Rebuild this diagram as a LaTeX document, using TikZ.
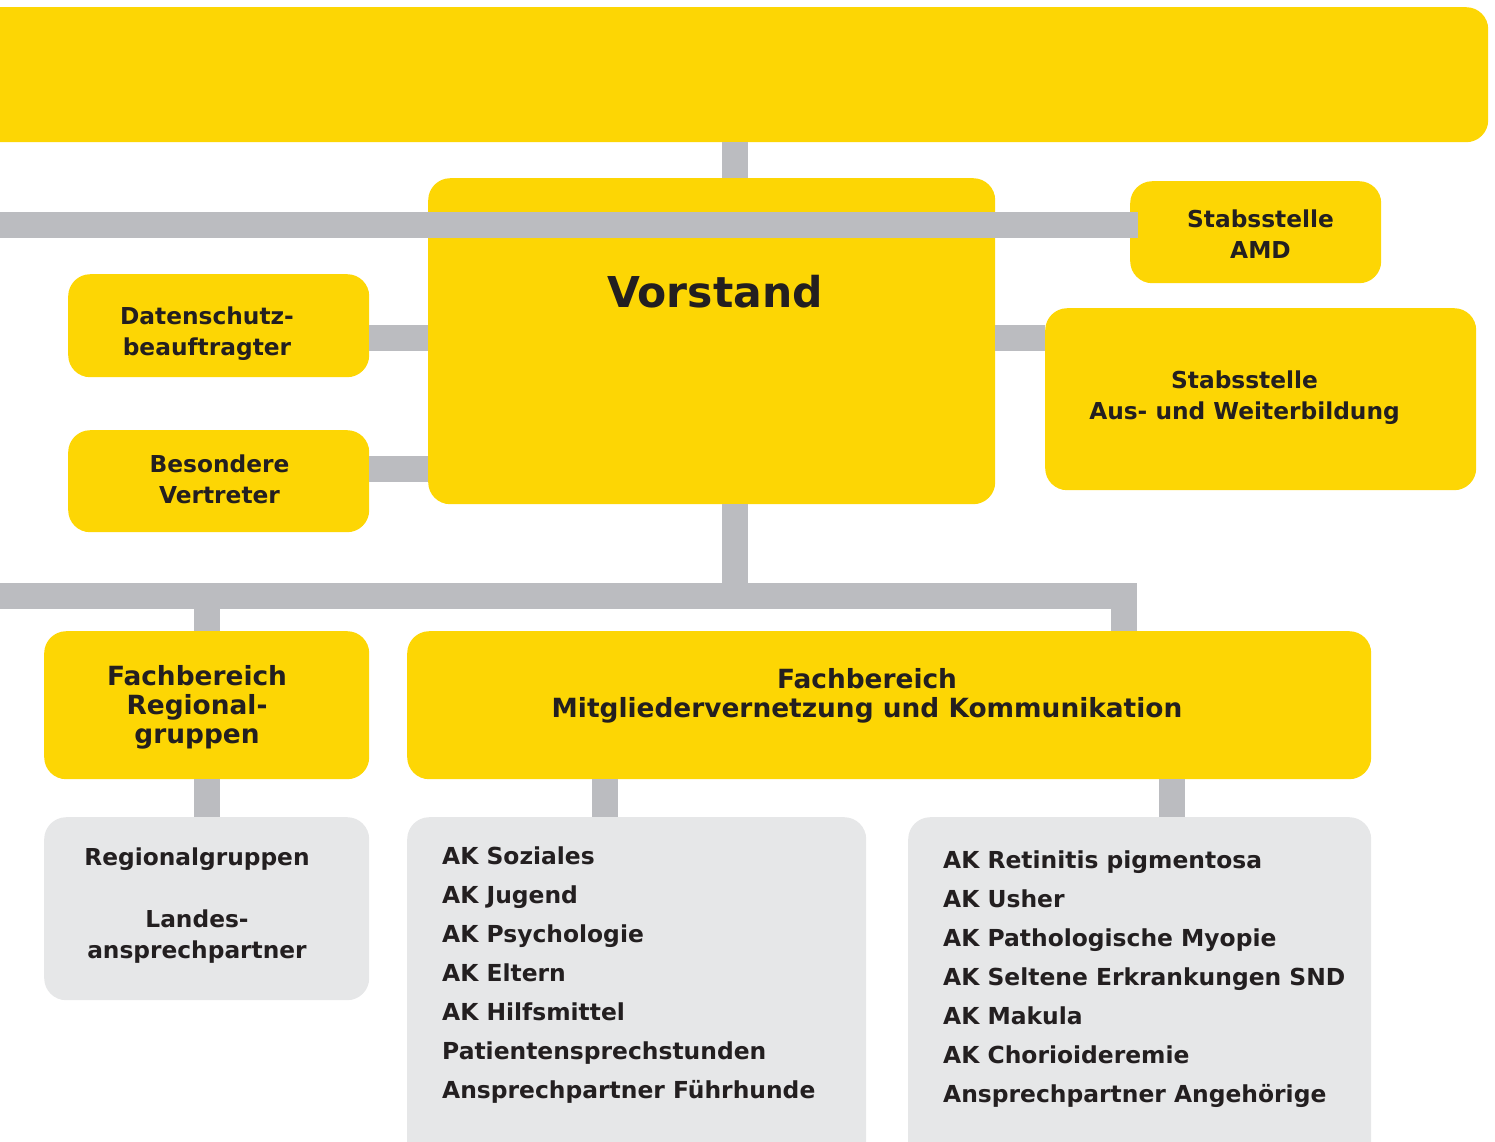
\documentclass[tikz,border=0pt]{standalone}
\usepackage{fontspec}
\setmainfont{DejaVu Sans}
\usetikzlibrary{calc}

\definecolor{boxyellow}{HTML}{FDD604}
\definecolor{linkgrey}{HTML}{BBBCC0}
\definecolor{listgrey}{HTML}{E6E7E8}
\definecolor{inkdark}{HTML}{231F20}

\tikzset{
  ybox/.style={fill=boxyellow, draw=none, rounded corners=22pt, anchor=north west, inner sep=0pt},
  gbox/.style={fill=listgrey, draw=none, rounded corners=22pt, anchor=north west, inner sep=0pt},
  conn/.style={draw=linkgrey, line width=26pt, line cap=butt, line join=miter},
  lbl/.style={text=inkdark, inner sep=0pt, anchor=base, font=\fontsize{23.3}{31}\selectfont\bfseries},
  biglbl/.style={lbl, font=\fontsize{26.4}{29}\selectfont\bfseries},
  listlbl/.style={text=inkdark, inner sep=0pt, anchor=base west, font=\fontsize{23.4}{39}\selectfont\bfseries},
}

\begin{document}
\begin{tikzpicture}[x=1pt, y=-1pt]
\useasboundingbox (0,0) rectangle (1495,1141);
\clip (0,0) rectangle (1495,1141);

% boxes
\node[ybox, minimum width=1520pt, minimum height=135pt] (top) at (-32,7) {};
\node[ybox, minimum width=567pt, minimum height=326pt] (vorstand) at (428,178) {};
\node[ybox, minimum width=301pt, minimum height=103pt] (dsb) at (68,274) {};
\node[ybox, minimum width=301pt, minimum height=102pt] (bv) at (68,430) {};
\node[ybox, minimum width=251pt, minimum height=102pt] (amd) at (1130,181) {};
\node[ybox, minimum width=431pt, minimum height=182pt] (ausw) at (1045,308) {};
\node[ybox, minimum width=325pt, minimum height=148pt] (fbr) at (44,631) {};
\node[ybox, minimum width=964pt, minimum height=148pt] (fbm) at (407,631) {};
\node[gbox, minimum width=325pt, minimum height=183pt] (rg) at (44,817) {};
\node[gbox, minimum width=459pt, minimum height=350pt] (akl) at (407,817) {};
\node[gbox, minimum width=463pt, minimum height=350pt] (akr) at (908,817) {};

% reference lines for the connectors
\coordinate (cx) at (735,0);
\coordinate (bar1) at (0,225);
\coordinate (side1) at (0,337.5);
\coordinate (side2) at (0,468.5);
\coordinate (bar2) at (0,596);
\coordinate (bar2top) at (0,583);
\coordinate (rx) at (1124,0);
\coordinate (kx1) at (605,0);
\coordinate (kx2) at (1171.5,0);

% connectors
\draw[conn] (top.south -| cx) -- (vorstand.north -| cx);
\draw[conn] (bar1) -- ($(amd.west |- bar1)+(8,0)$);
\draw[conn] (dsb.east |- side1) -- (vorstand.west |- side1);
\draw[conn] (bv.east |- side2) -- (vorstand.west |- side2);
\draw[conn] (vorstand.east |- side1) -- (ausw.west |- side1);
\draw[conn] (vorstand.south -| cx) -- (bar2 -| cx);
\draw[conn] (bar2) -- (bar2 -| rx) -- (fbm.north -| rx);
\draw[conn] (bar2top -| fbr.north) -- (fbr.north);
\draw[conn] (fbr.south) -- (rg.north);
\draw[conn] (fbm.south -| kx1) -- (akl.north -| kx1);
\draw[conn] (fbm.south -| kx2) -- (akr.north -| kx2);

% labels
\node[lbl, font=\fontsize{42.5}{50}\selectfont\bfseries] (tvorstand) at (715,307) {Vorstand};
\node[lbl] (tdsb) at (207,324) {\begin{tabular}[t]{@{}c@{}}Datenschutz-\\beauftragter\end{tabular}};
\node[lbl] (tbv) at (219.5,472) {\begin{tabular}[t]{@{}c@{}}Besondere\\Vertreter\end{tabular}};
\node[lbl] (tamd) at (1260.5,227) {\begin{tabular}[t]{@{}c@{}}Stabsstelle\\AMD\end{tabular}};
\node[lbl] (tausw) at (1244.5,388) {\begin{tabular}[t]{@{}c@{}}Stabsstelle\\Aus- und Weiterbildung\end{tabular}};
\node[biglbl] (tfbr) at (197,685) {\begin{tabular}[t]{@{}c@{}}Fachbereich\\Regional-\\gruppen\end{tabular}};
\node[biglbl] (tfbm) at (867,688) {\begin{tabular}[t]{@{}c@{}}Fachbereich\\Mitgliedervernetzung und Kommunikation\end{tabular}};
\node[lbl] (trg) at (197,865) {\begin{tabular}[t]{@{}c@{}}Regionalgruppen\\ \\Landes-\\ansprechpartner\end{tabular}};
\node[listlbl] (takl) at (442,864) {\begin{tabular}[t]{@{}l@{}}AK Soziales\\AK Jugend\\AK Psychologie\\AK Eltern\\AK Hilfsmittel\\Patientensprechstunden\\Ansprechpartner Führhunde\end{tabular}};
\node[listlbl] (takr) at (943,868) {\begin{tabular}[t]{@{}l@{}}AK Retinitis pigmentosa\\AK Usher\\AK Pathologische Myopie\\AK Seltene Erkrankungen SND\\AK Makula\\AK Chorioideremie\\Ansprechpartner Angehörige\end{tabular}};
\end{tikzpicture}
\end{document}
